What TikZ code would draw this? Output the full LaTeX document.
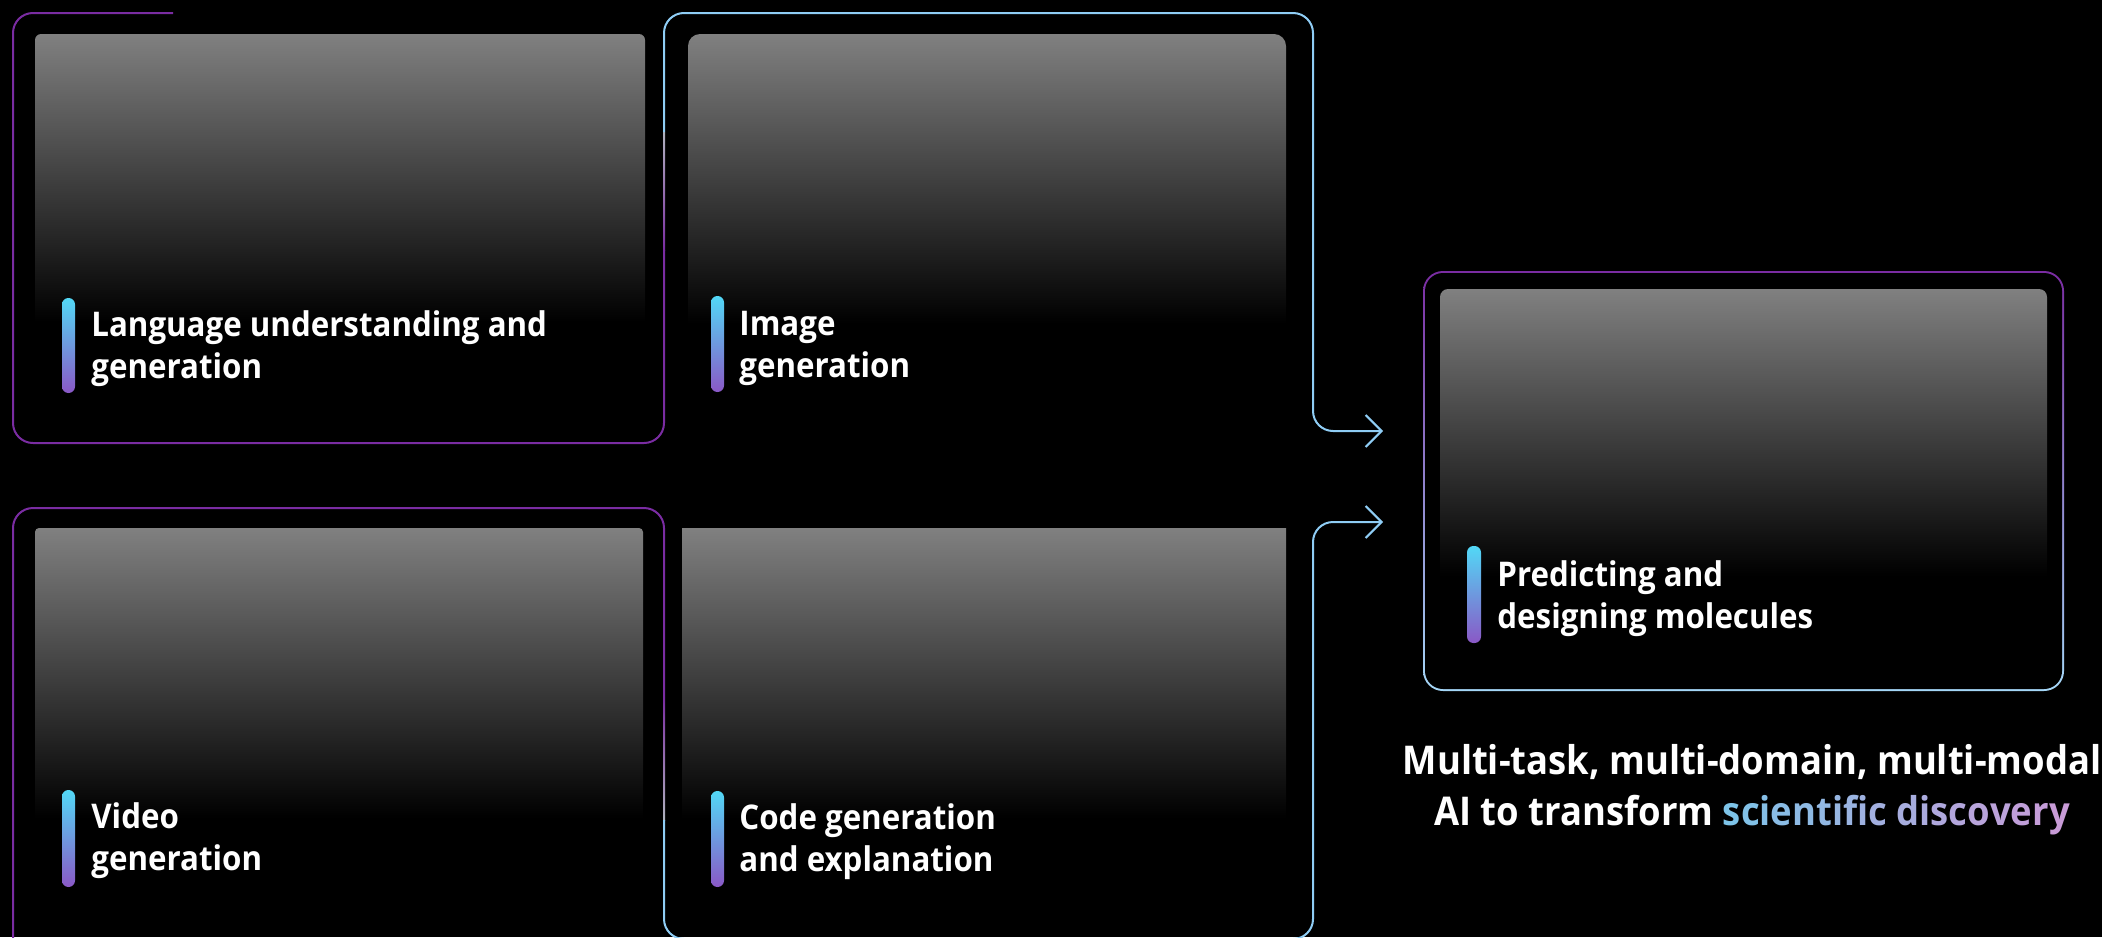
\documentclass[tikz,border=0pt]{standalone}
\usepackage{fontspec}
\setmainfont{Open Sans}
\newfontfamily\labelfont{Open Sans}[FakeStretch=0.92]
\usetikzlibrary{arrows.meta}

\definecolor{framepurple}{HTML}{7A2CA2}
\definecolor{frameblue}{HTML}{8FCDF5}
\definecolor{barcyan}{HTML}{52D8F6}
\definecolor{barviolet}{HTML}{8A58C6}
\definecolor{cardtop}{RGB}{128,128,128}
\definecolor{linkgray}{RGB}{175,178,190}
\definecolor{capA}{RGB}{125,195,232}
\definecolor{capB}{RGB}{200,155,215}

% cards: black over the lower quarter, then a straight ramp up to mid gray
\pgfdeclareverticalshading{cardfade}{100bp}{color(0bp)=(black); color(37.5bp)=(black); color(75bp)=(cardtop); color(100bp)=(cardtop)}

\tikzset{
  frameline/.style={line width=1pt, rounded corners=10pt, line cap=butt},
  card/.style={shading=cardfade, rounded corners=#1, inner sep=0pt},
  accentbar/.style={rounded corners=3.2pt, top color=barcyan, bottom color=barviolet},
  % anchored on the baseline of the last line
  tasklabel/.style={anchor=base west, align=left, text=white, inner sep=0pt,
    font=\labelfont\bfseries\fontsize{17pt}{21pt}\selectfont},
  flowarrow/.style={frameblue, line width=1pt, rounded corners=10pt,
    -{Straight Barb[length=8pt,width=16pt,line width=1pt]}},
}

\begin{document}
\begin{tikzpicture}[x=0.5pt,y=-0.5pt]
\fill[black] (0,0) rectangle (2102,937);
\useasboundingbox (0,0) rectangle (2102,937);

% ---- cards ----
\node[card=3pt, minimum width=305pt, minimum height=192pt] (c1) at (340,226) {};
\node[card=6pt, minimum width=299pt, minimum height=193pt] (c2) at (987,227) {};
\node[card=2pt, minimum width=304pt, minimum height=193.5pt] (c3) at (339,721.5) {};
\node[card=0pt, minimum width=302pt, minimum height=193.5pt] (c4) at (984,721.5) {};

% ---- frames of the left grid ----
\draw[frameline, framepurple] (173,13) -- (13,13) -- (13,443) -- (664,443) -- (664,250);
\shade[top color=linkgray, bottom color=framepurple] (663,132) rectangle (665,250);
\draw[frameline, frameblue] (664,132) -- (664,13) -- (1313,13) -- (1313,300);

\draw[frameline, framepurple] (13,960) -- (13,508) -- (664,508) -- (664,697);
\shade[top color=framepurple, bottom color=linkgray] (663,697) rectangle (665,820);
\draw[frameline, frameblue] (664,820) -- (664,939) -- (1313,939) -- (1313,600);

% ---- arrows into the molecule panel ----
\coordinate (a1) at (1313,300);
\coordinate (t1) at (1383,431);
\coordinate (a2) at (1313,600);
\coordinate (t2) at (1383,522);
\draw[flowarrow] (a1) |- (t1);
\draw[flowarrow] (a2) |- (t2);

% ---- molecule panel frame: purple at the top fading to light blue ----
\shade[top color=framepurple, bottom color=frameblue!80!white, rounded corners=10pt]
  (1423,271) rectangle (2064,691);
\fill[black, rounded corners=9pt] (1425,273) rectangle (2062,689);
\node[card=4pt, minimum width=303.5pt, minimum height=191.5pt] (c5) at (1743.5,480.5) {};

% ---- accent bars ----
\shade[accentbar] (62,298) rectangle (75,393);
\shade[accentbar] (711,296) rectangle (724,392);
\shade[accentbar] (62,790) rectangle (75,887);
\shade[accentbar] (711,791) rectangle (724,887);
\shade[accentbar] (1467,546) rectangle (1481,643);

% ---- labels ----
\node[tasklabel] (l1) at (91,378) {Language understanding and\\generation};
\node[tasklabel] (l2) at (739,377) {Image\\generation};
\node[tasklabel] (l3) at (91,870) {Video\\generation};
\node[tasklabel] (l4) at (739,871) {Code generation\\and explanation};
\node[tasklabel] (l5) at (1497,628) {Predicting and\\designing molecules};

% ---- caption ----
\node[anchor=base, align=center, text=white, inner sep=0pt,
      font=\labelfont\bfseries\fontsize{19.8pt}{25.5pt}\selectfont] (cap) at (1752,825)
  {Multi-task, multi-domain, multi-modal\\
   AI to transform
   \textcolor{capA}{s}\textcolor{capA!94!capB}{c}\textcolor{capA!89!capB}{i}%
   \textcolor{capA!83!capB}{e}\textcolor{capA!78!capB}{n}\textcolor{capA!72!capB}{t}%
   \textcolor{capA!67!capB}{i}\textcolor{capA!61!capB}{f}\textcolor{capA!56!capB}{i}%
   \textcolor{capA!50!capB}{c} \textcolor{capA!44!capB}{d}\textcolor{capA!39!capB}{i}%
   \textcolor{capA!33!capB}{s}\textcolor{capA!28!capB}{c}\textcolor{capA!22!capB}{o}%
   \textcolor{capA!17!capB}{v}\textcolor{capA!11!capB}{e}\textcolor{capA!6!capB}{r}%
   \textcolor{capB}{y}};
\end{tikzpicture}
\end{document}
